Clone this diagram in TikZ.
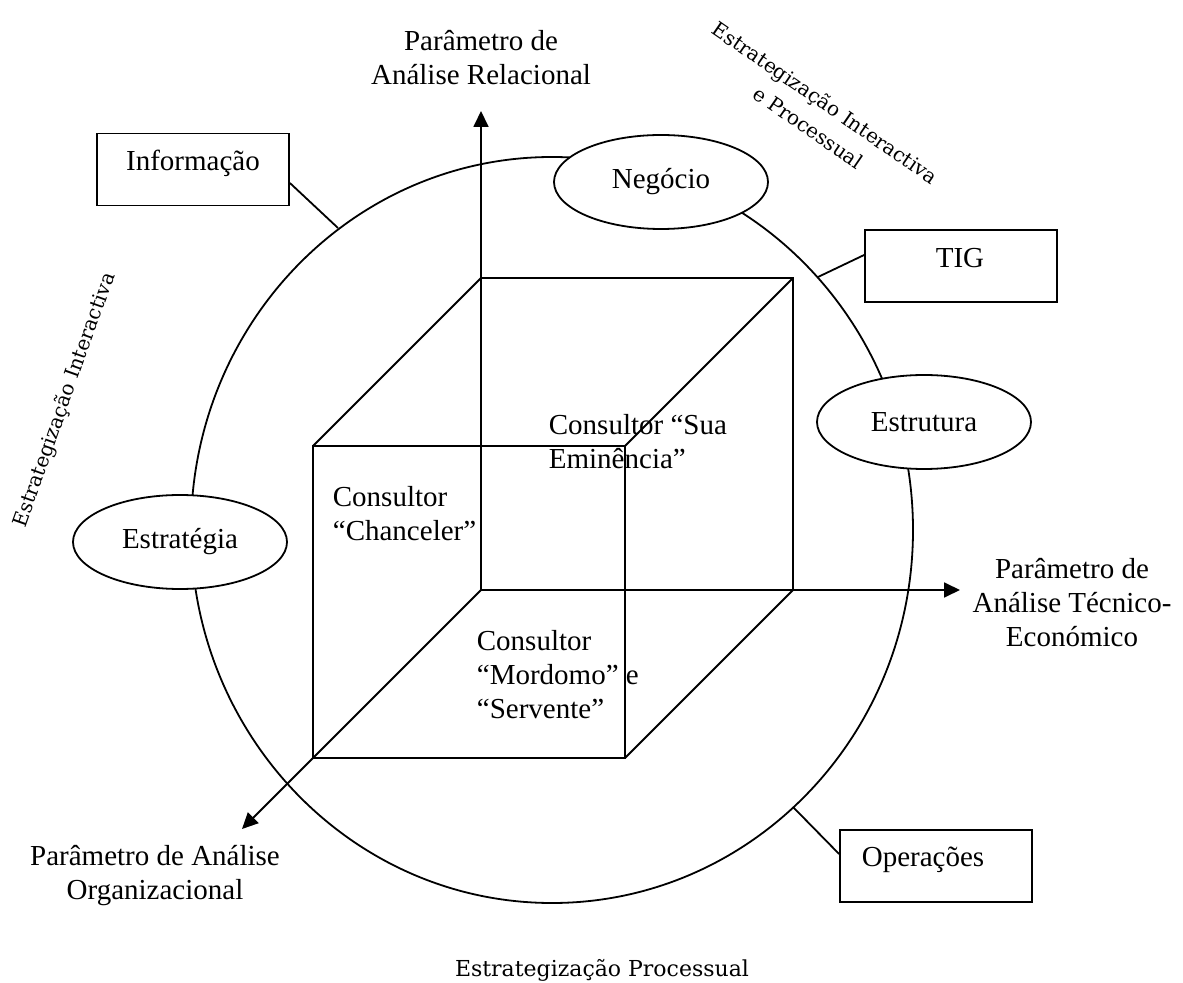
\documentclass[tikz,border=0pt]{standalone}
\usepackage{fontspec}
\setmainfont{Liberation Serif}
\newfontfamily\slabfont{DejaVu Serif}
\usetikzlibrary{arrows.meta,shapes.geometric}
\begin{document}
\begin{tikzpicture}[x=0.5pt,y=-0.5pt,line width=0.9pt,
  lbl/.style={font=\fontsize{14.5}{17}\selectfont,inner sep=0pt,align=center},
  lblleft/.style={font=\fontsize{14.5}{17}\selectfont,inner sep=0pt,align=left,anchor=west},
  boxnode/.style={draw,fill=white,minimum width=96pt,minimum height=36pt,inner sep=0pt},
  ellnode/.style={draw,ellipse,fill=white,minimum width=107pt,minimum height=47pt,inner sep=0pt,font=\fontsize{14.5}{17}\selectfont},
  axisarrow/.style={-{Triangle[length=8pt,width=7.5pt]}},
  slab/.style={font=\slabfont\fontsize{10}{15}\selectfont,inner sep=0pt,align=center}]
\useasboundingbox (0,0) rectangle (1183,983);
% big circle
\draw (552,530) ellipse [x radius=361, y radius=373];
% cube corners
\coordinate (A) at (313,446);
\coordinate (B) at (625,446);
\coordinate (C) at (625,758);
\coordinate (D) at (313,758);
\coordinate (E) at (481,278);
\coordinate (F) at (793,278);
\coordinate (G) at (793,590);
\coordinate (H) at (481,590);
\coordinate (tipY) at (481,111);
\coordinate (tipX) at (960,590);
\coordinate (tipZ) at (242,829);
% cube
\draw (A) -- (B) -- (C) -- (D) -- cycle;
\draw (E) -- (F) -- (G);
\draw (A) -- (E);
\draw (B) -- (F);
\draw (C) -- (G);
% axes
\draw[axisarrow] (H) -- (tipY);
\draw[axisarrow] (H) -- (tipX);
\draw[axisarrow] (H) -- (tipZ);
% circle attachment points
\coordinate (pInfo) at (338,228);
\coordinate (pTIG) at (818,277);
\coordinate (pOps) at (793,807);
% boxes
\node[boxnode] (info) at (193,169.5) {};
\node[boxnode] (tig) at (961,266) {};
\node[boxnode] (ops) at (936,866) {};
\node[lbl] (infotxt) at (193,163) {Informação};
\node[lbl] (tigtxt) at (960,258) {TIG};
\node[lbl] (opstxt) at (923,860) {Operações};
\draw (info.east |- 0,183) -- (pInfo);
\draw (tig.west |- 0,255) -- (pTIG);
\draw (ops.west |- 0,854) -- (pOps);
% ellipses
\node[ellnode] (neg) at (661,182) {Negócio};
\node[ellnode] (estru) at (924,422) {Estrutura};
\node[ellnode] (estra) at (180,542) {Estratégia};
% axis labels
\node[lbl] (ly) at (481,58) {Parâmetro de\\Análise Relacional};
\node[lbl] (lx) at (1072,603) {Parâmetro de\\Análise Técnico-\\Económico};
\node[lbl] (lz) at (155,876) {Parâmetro de Análise\\Organizacional};
% consultant labels
\node[lblleft] (sua) at (548,442) {Consultor “Sua\\Eminência”};
\node[lblleft] (chan) at (332,514) {Consultor\\“Chanceler”};
\node[lblleft] (mord) at (476,675) {Consultor\\“Mordomo” e\\“Servente”};
% strategy labels
\node[slab,rotate=70.5] (si) at (65,400) {Estrategização Interactiva};
\node[slab,rotate=-34.5] (sip) at (817,115) {Estrategização Interactiva\\e Processual};
\node[slab,font=\slabfont\fontsize{11}{13}\selectfont] (sp) at (602,970) {Estrategização Processual};
\end{tikzpicture}
\end{document}
